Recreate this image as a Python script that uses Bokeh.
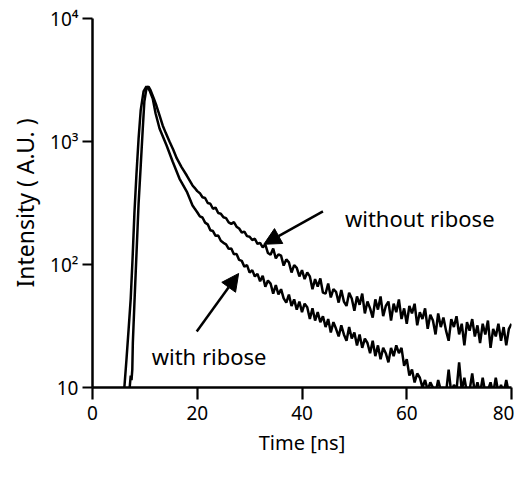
from bokeh.plotting import figure
from bokeh.models import Range1d, FixedTicker, Arrow, NormalHead, Label
from bokeh.embed import file_html
from bokeh.resources import INLINE

# ---------------- data ----------------
# without ribose (slower decay, upper curve in the tail)
t_without = [7.0, 7.3, 7.45, 7.6, 7.7, 8.0, 8.4, 8.8, 9.2, 9.6, 9.9, 10.3, 10.7, 11.1,
             11.7, 12.2, 12.8, 13.4, 14.0, 14.7, 15.4, 16.1, 17.0, 18.0, 19.1, 19.5,
             20.0, 20.5, 21.0, 21.5, 22.0, 22.5, 23.0, 23.5, 24.0, 24.5, 25.0, 25.5,
             26.0, 26.5, 27.0, 27.5, 28.0, 28.5, 29.0, 29.5, 30.0, 30.5, 31.0, 31.5,
             32.0, 32.5, 33.0, 33.5, 34.0, 34.5, 35.0, 35.5, 36.0, 36.5, 37.0, 37.5,
             38.0, 38.5, 39.0, 39.5, 40.0, 40.5, 41.0, 41.5, 42.0, 42.5, 43.0, 43.5,
             44.0, 44.5, 45.0, 45.5, 46.0, 46.5, 47.0, 47.5, 48.0, 48.5, 49.0, 49.5,
             50.0, 50.5, 51.0, 51.5, 52.0, 52.5, 53.0, 53.5, 54.0, 54.5, 55.0, 55.5,
             56.0, 56.5, 57.0, 57.5, 58.0, 58.5, 59.0, 59.5, 60.0, 60.5, 61.0, 61.5,
             62.0, 62.5, 63.0, 63.5, 64.0, 64.5, 65.0, 65.5, 66.0, 66.5, 67.0, 67.5,
             68.0, 68.5, 69.0, 69.5, 70.0, 70.5, 71.0, 71.5, 72.0, 72.5, 73.0, 73.5,
             74.0, 74.5, 75.0, 75.5, 76.0, 76.5, 77.0, 77.5, 78.0, 78.5, 79.0, 79.5, 80.0]
i_without = [9, 12.5, 11.5, 14, 23, 48, 123, 313, 626, 1276, 2115, 2700, 2800, 2600,
             2240, 1960, 1630, 1350, 1170, 1000, 860, 728, 620, 529, 439, 420,
             395, 380, 352, 347, 316, 312, 284, 290, 262, 259, 242, 238,
             220, 214, 221, 203, 196, 182, 185, 170, 168, 158, 162, 147,
             150, 138, 145, 124, 120, 135, 112, 121, 118, 98, 110, 104,
             86, 99, 94, 80, 90, 76, 86, 80, 63, 76, 66, 77,
             59, 58, 70, 54, 63, 60, 49, 62, 50, 46, 59, 53,
             42, 55, 47, 58, 40, 50, 44, 37, 52, 43, 55, 38,
             46, 50, 35, 48, 41, 52, 36, 44, 33, 46, 40, 48,
             32, 41, 36, 44, 30, 39, 35, 27, 40, 31, 37, 29,
             24, 36, 31, 38, 27, 33, 22, 34, 29, 36, 26, 32,
             23, 33, 27, 35, 21, 30, 26, 33, 24, 31, 22, 30, 33]

# with ribose (faster decay, lower curve in the tail)
t_with = [5.9, 6.1, 6.5, 6.9, 7.3, 7.65, 8.0, 8.4, 8.8, 9.2, 9.75, 10.3, 10.9, 11.5,
          12.05, 12.8, 14.15, 15.3, 16.6, 18.0, 19.1, 19.5,
          20.0, 20.5, 21.0, 21.5, 22.0, 22.5, 23.0, 23.5, 24.0, 24.5, 25.0, 25.5,
          26.0, 26.5, 27.0, 27.5, 28.0, 28.5, 29.0, 29.5, 30.0, 30.5, 31.0, 31.5,
          32.0, 32.5, 33.0, 33.5, 34.0, 34.5, 35.0, 35.5, 36.0, 36.5, 37.0, 37.5,
          38.0, 38.5, 39.0, 39.5, 40.0, 40.5, 41.0, 41.5, 42.0, 42.5, 43.0, 43.5,
          44.0, 44.5, 45.0, 45.5, 46.0, 46.5, 47.0, 47.5, 48.0, 48.5, 49.0, 49.5,
          50.0, 50.5, 51.0, 51.5, 52.0, 52.5, 53.0, 53.5, 54.0, 54.5, 55.0, 55.5,
          56.0, 56.5, 57.0, 57.5, 58.0, 58.5, 59.0, 59.5, 60.0, 60.5, 61.0, 61.5,
          62.0, 62.5, 63.0, 63.5, 64.0, 64.5, 65.0, 65.5, 66.0, 66.5, 67.0, 67.5,
          68.0, 68.5, 69.0, 69.5, 70.0, 70.5, 71.0, 71.5, 72.0, 72.5, 73.0, 73.5,
          74.0, 74.5, 75.0, 75.5, 76.0, 76.5, 77.0, 77.5, 78.0, 78.5, 79.0, 79.5, 80.0]
i_with = [8, 10.2, 17.2, 30, 53, 112, 260, 549, 1058, 1786, 2551, 2800, 2600, 2238,
          1689, 1276, 927, 687, 500, 392, 302, 285,
          266, 246, 241, 219, 212, 190, 187, 171, 172, 156, 150, 146,
          134, 135, 121, 122, 109, 107, 96, 99, 86, 90, 80, 84,
          73, 81, 66, 74, 70, 58, 68, 57, 63, 53, 49, 57,
          46, 52, 43, 50, 41, 48, 45, 36, 44, 35, 41, 34,
          38, 31, 36, 28, 34, 30, 26, 32, 27, 24, 31, 25,
          28, 22, 27, 21, 25, 23, 19, 24, 18, 22, 17, 21,
          19, 16, 21, 18, 22, 19, 21, 15, 17, 12.5, 14, 11,
          13, 12, 10, 11.5, 9.5, 11, 10, 9, 11.5, 9.5, 10, 9,
          14, 9, 10.5, 9.5, 16, 9.5, 12, 9, 9.5, 13, 9, 11,
          9, 12, 9, 9.5, 11, 9, 12, 9, 10.5, 9, 11.5, 9, 10]

x_ticks = [0, 20, 40, 60, 80]
y_ticks = [10, 100, 1000, 10000]
y_tick_labels = {10: "10", 100: "10\u00b2", 1000: "10\u00b3", 10000: "10\u2074"}

FONT = "Noto Sans"

p = figure(width=514, height=461, y_axis_type="log",
           x_range=Range1d(0, 80), y_range=Range1d(10, 10000),
           output_backend="svg", toolbar_location=None,
           min_border_left=92, min_border_right=3,
           min_border_top=18, min_border_bottom=74)

p.xgrid.visible = False
p.ygrid.visible = False
p.outline_line_color = None
p.background_fill_color = "white"
p.border_fill_color = "white"

p.line(t_without, i_without, line_color="black", line_width=2.5)
p.line(t_with, i_with, line_color="black", line_width=2.5)

# axes
xa = p.xaxis[0]
xa.ticker = FixedTicker(ticks=x_ticks)
xa.axis_line_width = 2.5
xa.major_tick_line_width = 2.2
xa.major_tick_out = 12
xa.major_tick_in = 0
xa.minor_tick_line_color = None
xa.major_label_text_font = FONT
xa.major_label_text_font_size = "19px"
xa.major_label_text_color = "black"
xa.major_label_standoff = 6
xa.axis_label = "Time [ns]"
xa.axis_label_text_font = FONT
xa.axis_label_text_font_size = "20px"
xa.axis_label_text_font_style = "normal"
xa.axis_label_text_color = "black"
xa.axis_label_standoff = 6

ya = p.yaxis[0]
ya.ticker = FixedTicker(ticks=y_ticks)
ya.major_label_overrides = y_tick_labels
ya.axis_line_width = 2.5
ya.major_tick_line_width = 2.2
ya.major_tick_out = 10
ya.major_tick_in = 0
ya.minor_tick_line_color = None
ya.major_label_text_font = FONT
ya.major_label_text_font_size = "19px"
ya.major_label_text_color = "black"
ya.major_label_standoff = 4
ya.axis_label = "Intensity ( A.U. )"
ya.axis_label_text_font = FONT
ya.axis_label_text_font_size = "23px"
ya.axis_label_text_font_style = "normal"
ya.axis_label_text_color = "black"
ya.axis_label_standoff = 6

# annotations
p.add_layout(Arrow(end=NormalHead(size=17, fill_color="black", line_color="black"),
                   x_start=44.0, y_start=270, x_end=32.7, y_end=146,
                   line_color="black", line_width=2.5))
p.add_layout(Arrow(end=NormalHead(size=17, fill_color="black", line_color="black"),
                   x_start=19.9, y_start=28.5, x_end=27.9, y_end=84.5,
                   line_color="black", line_width=2.5))
p.add_layout(Label(x=48.2, y=237, text="without ribose", text_font=FONT,
                   text_font_size="22px", text_color="black", text_baseline="alphabetic"))
p.add_layout(Label(x=11.3, y=18.2, text="with ribose", text_font=FONT,
                   text_font_size="22px", text_color="black", text_baseline="alphabetic"))

open("out.html", "w").write(file_html(p, INLINE))
